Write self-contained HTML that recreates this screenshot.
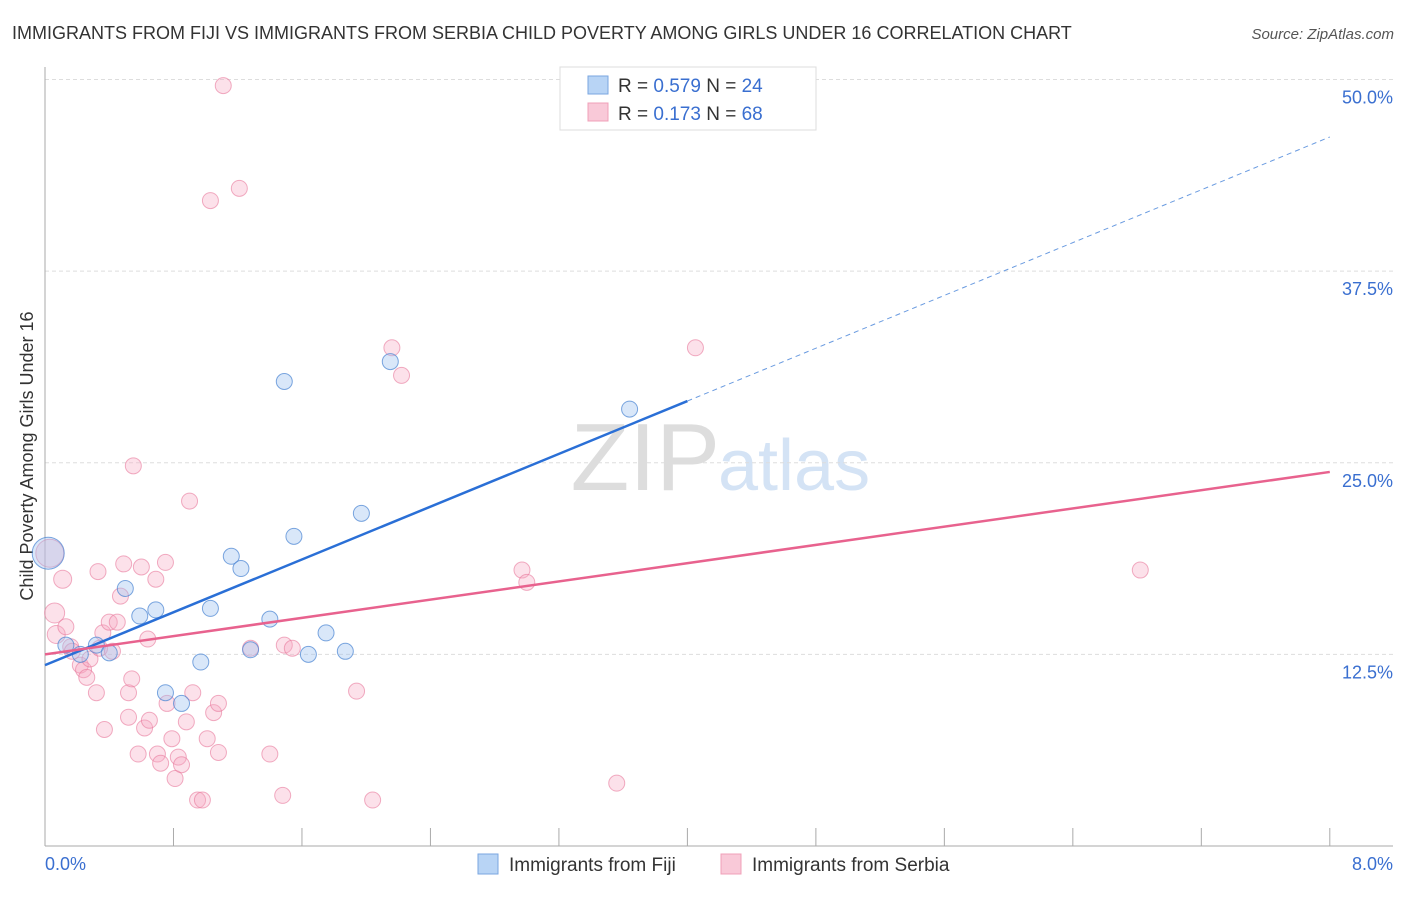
<!DOCTYPE html>
<html><head><meta charset="utf-8"><style>
body{margin:0;background:#fff;font-family:"Liberation Sans",sans-serif}
svg text{font-family:"Liberation Sans",sans-serif}
</style></head><body>
<svg width="1406" height="892" xmlns="http://www.w3.org/2000/svg">
<text x="12" y="39" font-size="18" fill="#333">IMMIGRANTS FROM FIJI VS IMMIGRANTS FROM SERBIA CHILD POVERTY AMONG GIRLS UNDER 16 CORRELATION CHART</text>
<text x="1394" y="39" font-size="15" fill="#555" font-style="italic" text-anchor="end">Source: ZipAtlas.com</text>
<text x="720" y="490" font-size="96" fill="#ddd" text-anchor="end" font-family="Liberation Serif">ZIP</text>
<text x="718" y="490" font-size="72" fill="#d4e3f5">atlas</text>
<g id="grid"></g>
<line x1="45" y1="67" x2="45" y2="846" stroke="#aaa"/>
<line x1="45" y1="846" x2="1393" y2="846" stroke="#aaa"/>
<g id="xticks"></g>
<text x="45" y="870" font-size="18" fill="#3a6fd0">0.0%</text>
<text x="1393" y="870" font-size="18" fill="#3a6fd0" text-anchor="end">8.0%</text>
<text transform="translate(33,456) rotate(-90)" font-size="18" fill="#333" text-anchor="middle">Child Poverty Among Girls Under 16</text>
<g id="pts"></g>
<g id="lines"></g>
<g>
<rect x="560" y="67" width="256" height="63" fill="#fff" stroke="#ddd"/>
<rect x="588" y="76" width="20" height="18" fill="#b8d4f5" stroke="#7aa6e0"/>
<text x="618" y="92" font-size="19" fill="#333">R = <tspan fill="#3a6fd0">0.579</tspan>   N = <tspan fill="#3a6fd0">24</tspan></text>
<rect x="588" y="103" width="20" height="18" fill="#f9c9d8" stroke="#f0a0b8"/>
<text x="618" y="120" font-size="19" fill="#333">R =  <tspan fill="#3a6fd0">0.173</tspan>   N = <tspan fill="#3a6fd0">68</tspan></text>
</g>
<g>
<rect x="478" y="854" width="20" height="20" fill="#b8d4f5" stroke="#7aa6e0"/>
<text x="509" y="871" font-size="19" fill="#333">Immigrants from Fiji</text>
<rect x="721" y="854" width="20" height="20" fill="#f9c9d8" stroke="#f0a0b8"/>
<text x="752" y="871" font-size="19" fill="#333">Immigrants from Serbia</text>
</g>
</svg>
<script>
const yTicks=[12.5,25,37.5,50];
const yTickLabels=["12.5%","25.0%","37.5%","50.0%"];
const xTickVals=[0.8,1.6,2.4,3.2,4.0,4.8,5.6,6.4,7.2,8.0];
const fijiX=[0.02,0.13,0.22,0.32,0.40,0.50,0.59,0.69,0.75,0.85,0.97,1.03,1.16,1.22,1.28,1.40,1.49,1.55,1.64,1.75,1.87,1.97,2.15,3.64];
const fijiY=[19.1,13.1,12.5,13.1,12.6,16.8,15.0,15.4,10.0,9.3,12.0,15.5,18.9,18.1,12.8,14.8,30.3,20.2,12.5,13.9,12.7,21.7,31.6,28.5];
const fijiR=[16,8,8,8,8,8,8,8,8,8,8,8,8,8,8,8,8,8,8,8,8,8,8,8];
const serbX=[0.03,0.06,0.07,0.11,0.13,0.16,0.17,0.22,0.24,0.26,0.28,0.32,0.33,0.34,0.37,0.36,0.40,0.42,0.45,0.47,0.49,0.52,0.52,0.54,0.55,0.58,0.60,0.62,0.64,0.65,0.69,0.70,0.72,0.75,0.76,0.79,0.81,0.83,0.85,0.88,0.90,0.92,0.95,0.98,1.01,1.05,1.03,1.08,1.08,1.11,1.21,1.28,1.40,1.48,1.49,1.54,1.94,2.04,2.16,2.22,2.97,3.00,3.56,4.05,6.82];
const serbY=[19.1,15.2,13.8,17.4,14.3,13.0,12.7,11.8,11.5,11.0,12.2,10.0,17.9,12.9,7.6,13.9,14.6,12.7,14.6,16.3,18.4,10.0,8.4,10.9,24.8,6.0,18.2,7.7,13.5,8.2,17.4,6.0,5.4,18.5,9.3,7.0,4.4,5.8,5.3,8.1,22.5,10.0,3.0,3.0,7.0,8.7,42.1,9.3,6.1,49.6,42.9,12.9,6.0,3.3,13.1,12.9,10.1,3.0,32.5,30.7,18.0,17.2,4.1,32.5,18.0];
const serbR=[14,10,9,9,8,8,8,8,8,8,8,8,8,8,8,8,8,8,8,8,8,8,8,8,8,8,8,8,8,8,8,8,8,8,8,8,8,8,8,8,8,8,8,8,8,8,8,8,8,8,8,8,8,8,8,8,8,8,8,8,8,8,8,8,8];
const fijiTrend=[11.8,46.25];
const serbTrend=[12.5,24.4];
const fijiSolidEnd=4.0;
const NS="http://www.w3.org/2000/svg";
const sx=v=>45+v*160.6;
const sy=v=>846-v*15.33;
function mk(tag,attrs,parent){const e=document.createElementNS(NS,tag);for(const k in attrs)e.setAttribute(k,attrs[k]);document.getElementById(parent).appendChild(e);return e;}
yTicks.forEach((t,i)=>{
 const l=mk('line',{x1:45,x2:1393,y1:sy(t),y2:sy(t),stroke:'#ddd','stroke-dasharray':'4,3'},'grid');
 
 
 const tx=mk('text',{x:1393,y:sy(t)+24,'font-size':18,fill:'#3a6fd0','text-anchor':'end'},'grid');
 tx.textContent=yTickLabels[i];
 
 
});
xTickVals.forEach(t=>{
 const l=mk('line',{x1:sx(t),x2:sx(t),y1:828,y2:846,stroke:'#aaa'},'xticks');
 
 
});
serbX.forEach((x,i)=>{
 const c=mk('circle',{cx:sx(x),cy:sy(serbY[i]),r:serbR[i],fill:'rgba(246,170,196,0.35)',stroke:'rgba(232,120,155,0.6)','stroke-width':1},'pts');
 
 
});
fijiX.forEach((x,i)=>{
 const c=mk('circle',{cx:sx(x),cy:sy(fijiY[i]),r:fijiR[i],fill:'rgba(160,196,240,0.4)',stroke:'rgba(70,130,210,0.7)','stroke-width':1},'pts');
 
 
});
const fy=x=>fijiTrend[0]+(fijiTrend[1]-fijiTrend[0])*x/8;
let l1=mk('line',{x1:sx(0),y1:sy(fy(0)),x2:sx(fijiSolidEnd),y2:sy(fy(fijiSolidEnd)),stroke:'#2a6fd6','stroke-width':2.5},'lines');


let l2=mk('line',{x1:sx(fijiSolidEnd),y1:sy(fy(fijiSolidEnd)),x2:sx(8),y2:sy(fy(8)),stroke:'#6a9be0','stroke-width':1,'stroke-dasharray':'5,4'},'lines');


let l3=mk('line',{x1:sx(0),y1:sy(serbTrend[0]),x2:sx(8),y2:sy(serbTrend[1]),stroke:'#e8628e','stroke-width':2.5},'lines');


</script>
</body></html>
